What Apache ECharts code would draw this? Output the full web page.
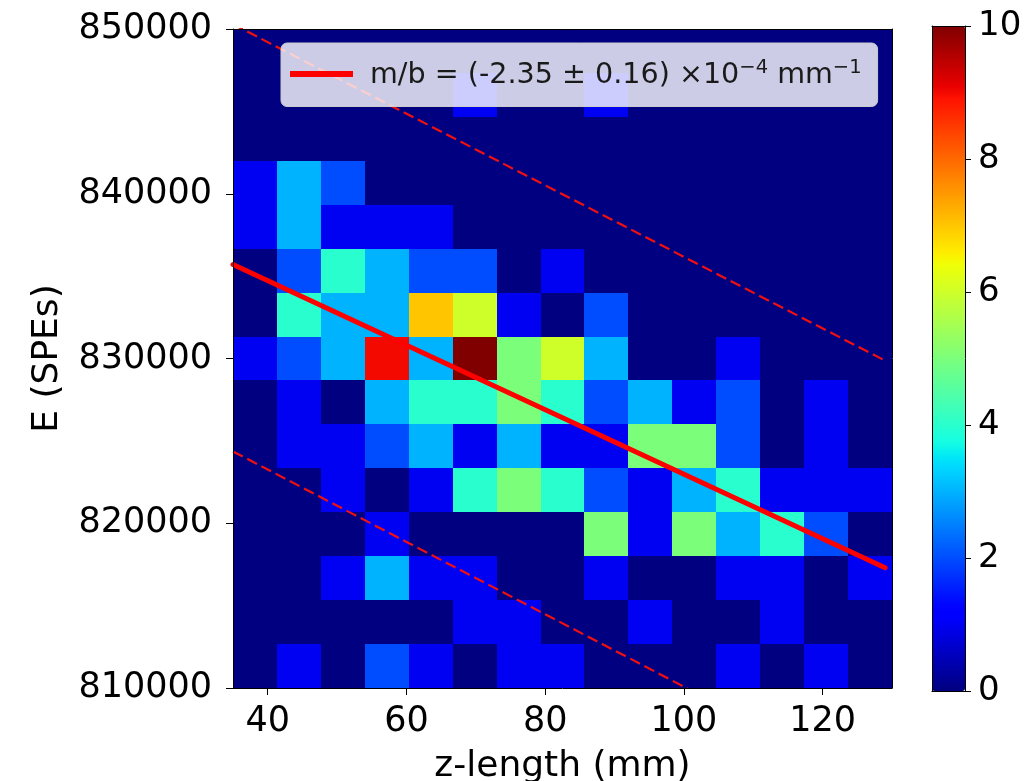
<!DOCTYPE html>
<html>
<head>
<meta charset="utf-8">
<title>E vs z-length</title>
<script src="https://cdn.jsdelivr.net/npm/echarts@6/dist/echarts.min.js"></script>
<style>
  html, body { margin: 0; padding: 0; background: #ffffff; }
  #chart { width: 1024px; height: 781px; }
</style>
</head>
<body>
<div id="chart"></div>
<script>
// Histogram range and binning (15 x 15 bins)
const xRange = [35, 130];
const yRange = [810000, 850000];
const nBinsX = 15;
const nBinsY = 15;

// Event counts per bin; rows run from the highest E bin down to the lowest,
// columns from the shortest z-length bin to the longest.
const counts = [
  [0, 0, 0, 0, 0, 0, 0, 0, 0, 0, 0, 0, 0, 0, 0],
  [0, 0, 0, 0, 0, 1, 0, 0, 1, 0, 0, 0, 0, 0, 0],
  [0, 0, 0, 0, 0, 0, 0, 0, 0, 0, 0, 0, 0, 0, 0],
  [1, 3, 2, 0, 0, 0, 0, 0, 0, 0, 0, 0, 0, 0, 0],
  [1, 3, 1, 1, 1, 0, 0, 0, 0, 0, 0, 0, 0, 0, 0],
  [0, 2, 4, 3, 2, 2, 0, 1, 0, 0, 0, 0, 0, 0, 0],
  [0, 4, 3, 3, 7, 6, 1, 0, 2, 0, 0, 0, 0, 0, 0],
  [1, 2, 3, 9, 3, 10, 5, 6, 3, 0, 0, 1, 0, 0, 0],
  [0, 1, 0, 3, 4, 4, 5, 4, 2, 3, 1, 2, 0, 1, 0],
  [0, 1, 1, 2, 3, 1, 3, 1, 1, 5, 5, 2, 0, 1, 0],
  [0, 0, 1, 0, 1, 4, 5, 4, 2, 1, 3, 4, 1, 1, 1],
  [0, 0, 0, 1, 0, 0, 0, 0, 5, 1, 5, 3, 4, 2, 0],
  [0, 0, 1, 3, 1, 1, 0, 0, 1, 0, 0, 1, 1, 0, 1],
  [0, 0, 0, 0, 0, 1, 1, 0, 0, 1, 0, 0, 1, 0, 0],
  [0, 1, 0, 2, 1, 0, 1, 1, 0, 0, 0, 1, 0, 1, 0]
];

// Linear fit and its band (end points in z-length, E)
const fitLine = [[35, 835700], [129, 817300]];
const bandUpper = [[35, 850290], [129, 829870]];
const bandLower = [[35, 824360], [129, 803710]];

const fitName = 'm/b = (-2.35 ± 0.16) ×10⁻⁴ mm⁻¹';

// Tick labels
const xTicks = [40, 60, 80, 100, 120];
const cbarRange = [0, 10];

// ---- build cells for the custom rect series ----
const dx = (xRange[1] - xRange[0]) / nBinsX;
const dy = (yRange[1] - yRange[0]) / nBinsY;
const cells = [];
counts.forEach((row, r) => {
  const yHi = yRange[1] - r * dy;
  const yLo = yHi - dy;
  row.forEach((c, i) => {
    const xLo = xRange[0] + i * dx;
    cells.push([xLo, xLo + dx, yLo, yHi, c]);
  });
});

// jet colour map sampled for the continuous visualMap
function pw(t, pts) {
  for (let k = 1; k < pts.length; k++) {
    if (t <= pts[k][0]) {
      const [t0, v0] = pts[k - 1];
      const [t1, v1] = pts[k];
      return v0 + (v1 - v0) * (t - t0) / (t1 - t0);
    }
  }
  return pts[pts.length - 1][1];
}
function jet(t) {
  const r = pw(t, [[0, 0], [0.35, 0], [0.66, 1], [0.89, 1], [1, 0.5]]);
  const g = pw(t, [[0, 0], [0.125, 0], [0.375, 1], [0.64, 1], [0.91, 0], [1, 0]]);
  const b = pw(t, [[0, 0.5], [0.11, 1], [0.34, 1], [0.65, 0], [1, 0]]);
  const h = v => Math.round(v * 255).toString(16).padStart(2, '0');
  return '#' + h(r) + h(g) + h(b);
}
const jetStops = [];
for (let k = 0; k <= 200; k++) jetStops.push(jet(k / 200));

const FONT = 'DejaVu Sans';
const INK = '#000000';

const chart = echarts.init(document.getElementById('chart'), null, { renderer: 'canvas' });

const plainAxis = (extra) => Object.assign({
  type: 'value',
  axisLine: { show: true, onZero: false, lineStyle: { color: INK, width: 1 } },
  axisTick: { show: false },
  axisLabel: { show: false },
  splitLine: { show: false },
  z: 6
}, extra);

const option = {
  animation: false,
  backgroundColor: '#ffffff',
  textStyle: { fontFamily: FONT, color: INK },
  grid: [
    { left: 233, top: 29, width: 659, height: 659, containLabel: false, outerBoundsMode: 'none' },
    { left: 932, top: 26, width: 33, height: 665, containLabel: false, outerBoundsMode: 'none' }
  ],
  xAxis: [
    {
      type: 'value', gridIndex: 0, position: 'bottom',
      min: xRange[0], max: xRange[1],
      axisLine: { show: true, onZero: false, lineStyle: { color: INK, width: 1 } },
      axisTick: { show: true, length: 7, customValues: xTicks, lineStyle: { color: INK, width: 1 } },
      axisLabel: { customValues: xTicks, fontSize: 35, color: INK, margin: 16, fontFamily: FONT },
      splitLine: { show: false },
      name: 'z-length (mm)', nameLocation: 'middle', nameGap: 61,
      nameTextStyle: { fontSize: 36, color: INK, fontFamily: FONT },
      z: 6
    },
    plainAxis({ gridIndex: 0, position: 'top', min: xRange[0], max: xRange[1] }),
    plainAxis({ gridIndex: 1, position: 'bottom', min: 0, max: 1 }),
    plainAxis({ gridIndex: 1, position: 'top', min: 0, max: 1 })
  ],
  yAxis: [
    {
      type: 'value', gridIndex: 0, position: 'left',
      min: yRange[0], max: yRange[1], interval: 10000,
      axisLine: { show: true, onZero: false, lineStyle: { color: INK, width: 1 } },
      axisTick: { show: true, length: 7, lineStyle: { color: INK, width: 1 } },
      axisLabel: { fontSize: 35, color: INK, margin: 21, fontFamily: FONT, formatter: v => String(v) },
      splitLine: { show: false },
      name: 'E (SPEs)', nameLocation: 'middle', nameGap: 167, nameRotate: 90,
      nameTextStyle: { fontSize: 36, color: INK, fontFamily: FONT },
      z: 6
    },
    plainAxis({ gridIndex: 0, position: 'right', min: yRange[0], max: yRange[1] }),
    {
      type: 'value', gridIndex: 1, position: 'right',
      min: cbarRange[0], max: cbarRange[1], interval: 2,
      axisLine: { show: true, onZero: false, lineStyle: { color: INK, width: 1 } },
      axisTick: { show: true, length: 6, lineStyle: { color: INK, width: 1 } },
      axisLabel: { fontSize: 34, color: INK, margin: 13, fontFamily: FONT },
      splitLine: { show: false },
      z: 6
    },
    plainAxis({ gridIndex: 1, position: 'left', min: 0, max: 1 })
  ],
  visualMap: {
    type: 'continuous',
    min: cbarRange[0], max: cbarRange[1],
    dimension: 4,
    seriesIndex: 0,
    inRange: { color: jetStops },
    calculable: false,
    hoverLink: false,
    realtime: false,
    left: 932, top: 26,
    itemWidth: 33, itemHeight: 665,
    padding: 0,
    text: null,
    showLabel: false,
    z: 4
  },
  legend: {
    show: true,
    data: [{ name: fitName, icon: 'rect' }],
    left: 281, top: 43,
    orient: 'horizontal',
    itemWidth: 63, itemHeight: 6,
    selectedMode: false,
    backgroundColor: 'rgba(255,255,255,0.8)',
    borderColor: '#cccccc', borderWidth: 1, borderRadius: 6,
    padding: [15, 16, 16, 9],
    formatter: () => '{a|m/b = (-2.35 ± 0.16) ×10}{s|−4}{a| mm}{s|−1}',
    textStyle: {
      padding: [4, 0, 0, 12],
      rich: {
        a: { fontFamily: FONT, fontSize: 28.6, color: '#1a1a1a', lineHeight: 36 },
        s: { fontFamily: FONT, fontSize: 19.5, color: '#1a1a1a', lineHeight: 21, verticalAlign: 'top' }
      }
    },
    z: 8
  },
  series: [
    {
      type: 'custom',
      name: 'counts',
      xAxisIndex: 0, yAxisIndex: 0,
      data: cells,
      encode: { x: [0, 1], y: [2, 3] },
      clip: true,
      silent: true,
      renderItem: (params, api) => {
        const p0 = api.coord([api.value(0), api.value(3)]);
        const p1 = api.coord([api.value(1), api.value(2)]);
        const x = Math.round(p0[0]);
        const y = Math.round(p0[1]);
        return {
          type: 'rect',
          shape: { x: x, y: y, width: Math.round(p1[0]) - x, height: Math.round(p1[1]) - y },
          style: { fill: api.visual('color') }
        };
      },
      z: 2
    },
    {
      type: 'line',
      name: fitName,
      xAxisIndex: 0, yAxisIndex: 0,
      data: fitLine,
      symbol: 'none',
      clip: true,
      silent: true,
      lineStyle: { color: '#ff0000', width: 5, cap: 'round' },
      itemStyle: { color: '#ff0000' },
      z: 3
    },
    {
      type: 'line',
      name: 'band upper',
      xAxisIndex: 0, yAxisIndex: 0,
      data: bandUpper,
      symbol: 'none',
      clip: true,
      silent: true,
      lineStyle: { color: '#f01010', width: 2.2, type: [11, 5] },
      z: 3
    },
    {
      type: 'line',
      name: 'band lower',
      xAxisIndex: 0, yAxisIndex: 0,
      data: bandLower,
      symbol: 'none',
      clip: true,
      silent: true,
      lineStyle: { color: '#f01010', width: 2.2, type: [11, 5] },
      z: 3
    }
  ]
};

chart.setOption(option);
</script>
</body>
</html>
